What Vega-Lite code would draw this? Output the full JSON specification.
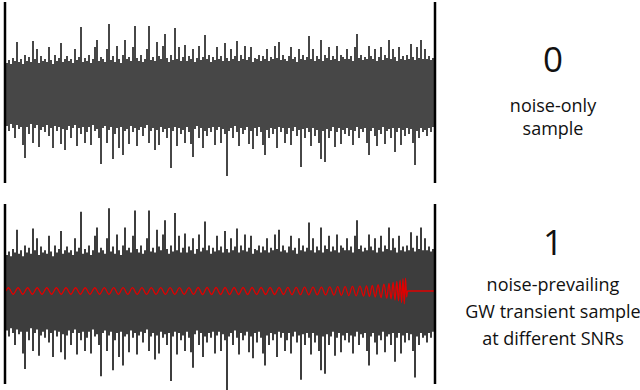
{
"$schema": "https://vega.github.io/schema/vega-lite/v6.json",
"padding": {"left": 3, "top": 0, "right": 0, "bottom": 0},
"background": "white",
"config": {"view": {"stroke": null}},
"spacing": 17,
"datasets": {
"noise": [
{"t":1,"hi":30,"lo":-33},{"t":2,"hi":33,"lo":-38},{"t":3,"hi":29,"lo":-31},{"t":4,"hi":35,"lo":-35},{"t":5,"hi":32,"lo":-45},{"t":6,"hi":51,"lo":-32},{"t":7,"hi":31,"lo":-36},{"t":8,"hi":34,"lo":-34},{"t":9,"hi":29,"lo":-52},{"t":10,"hi":38,"lo":-65},
{"t":11,"hi":32,"lo":-34},{"t":12,"hi":36,"lo":-41},{"t":13,"hi":31,"lo":-31},{"t":14,"hi":52,"lo":-50},{"t":15,"hi":34,"lo":-35},{"t":16,"hi":44,"lo":-32},{"t":17,"hi":30,"lo":-54},{"t":18,"hi":37,"lo":-37},{"t":19,"hi":32,"lo":-34},{"t":20,"hi":34,"lo":-39},
{"t":21,"hi":31,"lo":-32},{"t":22,"hi":46,"lo":-43},{"t":23,"hi":33,"lo":-35},{"t":24,"hi":29,"lo":-55},{"t":25,"hi":38,"lo":-33},{"t":26,"hi":32,"lo":-38},{"t":27,"hi":35,"lo":-34},{"t":28,"hi":50,"lo":-51},{"t":29,"hi":31,"lo":-36},{"t":30,"hi":34,"lo":-57},
{"t":31,"hi":37,"lo":-37},{"t":32,"hi":32,"lo":-33},{"t":33,"hi":34,"lo":-45},{"t":34,"hi":30,"lo":-35},{"t":35,"hi":44,"lo":-32},{"t":36,"hi":33,"lo":-53},{"t":37,"hi":36,"lo":-35},{"t":38,"hi":66,"lo":-41},{"t":39,"hi":31,"lo":-34},{"t":40,"hi":35,"lo":-50},
{"t":41,"hi":32,"lo":-39},{"t":42,"hi":38,"lo":-34},{"t":43,"hi":30,"lo":-52},{"t":44,"hi":34,"lo":-32},{"t":45,"hi":46,"lo":-38},{"t":46,"hi":53,"lo":-36},{"t":47,"hi":32,"lo":-45},{"t":48,"hi":36,"lo":-71},{"t":49,"hi":34,"lo":-35},{"t":50,"hi":31,"lo":-33},
{"t":51,"hi":44,"lo":-50},{"t":52,"hi":69,"lo":-37},{"t":53,"hi":33,"lo":-34},{"t":54,"hi":37,"lo":-66},{"t":55,"hi":31,"lo":-41},{"t":56,"hi":47,"lo":-35},{"t":57,"hi":34,"lo":-55},{"t":58,"hi":30,"lo":-34},{"t":59,"hi":38,"lo":-62},{"t":60,"hi":53,"lo":-38},
{"t":61,"hi":34,"lo":-36},{"t":62,"hi":36,"lo":-51},{"t":63,"hi":32,"lo":-33},{"t":64,"hi":46,"lo":-39},{"t":65,"hi":67,"lo":-35},{"t":66,"hi":35,"lo":-53},{"t":67,"hi":32,"lo":-37},{"t":68,"hi":38,"lo":-34},{"t":69,"hi":31,"lo":-43},{"t":70,"hi":34,"lo":-35},
{"t":71,"hi":44,"lo":-32},{"t":72,"hi":67,"lo":-50},{"t":73,"hi":33,"lo":-38},{"t":74,"hi":36,"lo":-35},{"t":75,"hi":32,"lo":-57},{"t":76,"hi":51,"lo":-37},{"t":77,"hi":37,"lo":-52},{"t":78,"hi":34,"lo":-34},{"t":79,"hi":47,"lo":-39},{"t":80,"hi":59,"lo":-36},
{"t":81,"hi":35,"lo":-45},{"t":82,"hi":31,"lo":-35},{"t":83,"hi":38,"lo":-75},{"t":84,"hi":33,"lo":-38},{"t":85,"hi":65,"lo":-34},{"t":86,"hi":34,"lo":-53},{"t":87,"hi":46,"lo":-35},{"t":88,"hi":32,"lo":-41},{"t":89,"hi":36,"lo":-37},{"t":90,"hi":48,"lo":-50},
{"t":91,"hi":32,"lo":-34},{"t":92,"hi":37,"lo":-39},{"t":93,"hi":34,"lo":-51},{"t":94,"hi":44,"lo":-64},{"t":95,"hi":31,"lo":-36},{"t":96,"hi":35,"lo":-33},{"t":97,"hi":47,"lo":-45},{"t":98,"hi":33,"lo":-35},{"t":99,"hi":36,"lo":-55},{"t":100,"hi":58,"lo":-38},
{"t":101,"hi":34,"lo":-43},{"t":102,"hi":38,"lo":-35},{"t":103,"hi":31,"lo":-39},{"t":104,"hi":36,"lo":-34},{"t":105,"hi":33,"lo":-52},{"t":106,"hi":46,"lo":-37},{"t":107,"hi":34,"lo":-34},{"t":108,"hi":37,"lo":-50},{"t":109,"hi":32,"lo":-36},{"t":110,"hi":50,"lo":-41},
{"t":111,"hi":35,"lo":-83},{"t":112,"hi":32,"lo":-38},{"t":113,"hi":44,"lo":-35},{"t":114,"hi":34,"lo":-45},{"t":115,"hi":37,"lo":-33},{"t":116,"hi":52,"lo":-39},{"t":117,"hi":32,"lo":-53},{"t":118,"hi":38,"lo":-35},{"t":119,"hi":34,"lo":-41},{"t":120,"hi":47,"lo":-37},
{"t":121,"hi":33,"lo":-34},{"t":122,"hi":36,"lo":-51},{"t":123,"hi":46,"lo":-38},{"t":124,"hi":31,"lo":-56},{"t":125,"hi":35,"lo":-35},{"t":126,"hi":34,"lo":-43},{"t":127,"hi":38,"lo":-34},{"t":128,"hi":32,"lo":-39},{"t":129,"hi":37,"lo":-52},{"t":130,"hi":34,"lo":-62},
{"t":131,"hi":44,"lo":-37},{"t":132,"hi":32,"lo":-45},{"t":133,"hi":36,"lo":-35},{"t":134,"hi":34,"lo":-41},{"t":135,"hi":47,"lo":-36},{"t":136,"hi":35,"lo":-55},{"t":137,"hi":51,"lo":-34},{"t":138,"hi":33,"lo":-39},{"t":139,"hi":38,"lo":-35},{"t":140,"hi":34,"lo":-50},
{"t":141,"hi":32,"lo":-41},{"t":142,"hi":37,"lo":-35},{"t":143,"hi":46,"lo":-52},{"t":144,"hi":34,"lo":-38},{"t":145,"hi":36,"lo":-34},{"t":146,"hi":31,"lo":-43},{"t":147,"hi":44,"lo":-37},{"t":148,"hi":34,"lo":-74},{"t":149,"hi":38,"lo":-36},{"t":150,"hi":33,"lo":-45},
{"t":151,"hi":36,"lo":-35},{"t":152,"hi":57,"lo":-39},{"t":153,"hi":34,"lo":-53},{"t":154,"hi":44,"lo":-35},{"t":155,"hi":32,"lo":-43},{"t":156,"hi":37,"lo":-37},{"t":157,"hi":34,"lo":-50},{"t":158,"hi":53,"lo":-66},{"t":159,"hi":32,"lo":-38},{"t":160,"hi":38,"lo":-69},
{"t":161,"hi":35,"lo":-36},{"t":162,"hi":46,"lo":-45},{"t":163,"hi":33,"lo":-38},{"t":164,"hi":37,"lo":-34},{"t":165,"hi":34,"lo":-54},{"t":166,"hi":47,"lo":-39},{"t":167,"hi":32,"lo":-35},{"t":168,"hi":38,"lo":-51},{"t":169,"hi":36,"lo":-37},{"t":170,"hi":34,"lo":-41},
{"t":171,"hi":44,"lo":-35},{"t":172,"hi":34,"lo":-43},{"t":173,"hi":37,"lo":-37},{"t":174,"hi":32,"lo":-52},{"t":175,"hi":46,"lo":-38},{"t":176,"hi":59,"lo":-34},{"t":177,"hi":35,"lo":-45},{"t":178,"hi":38,"lo":-36},{"t":179,"hi":33,"lo":-39},{"t":180,"hi":36,"lo":-35},
{"t":181,"hi":34,"lo":-50},{"t":182,"hi":47,"lo":-62},{"t":183,"hi":37,"lo":-38},{"t":184,"hi":34,"lo":-35},{"t":185,"hi":44,"lo":-43},{"t":186,"hi":32,"lo":-53},{"t":187,"hi":36,"lo":-37},{"t":188,"hi":46,"lo":-41},{"t":189,"hi":33,"lo":-34},{"t":190,"hi":38,"lo":-51},
{"t":191,"hi":35,"lo":-38},{"t":192,"hi":53,"lo":-36},{"t":193,"hi":34,"lo":-45},{"t":194,"hi":44,"lo":-35},{"t":195,"hi":36,"lo":-59},{"t":196,"hi":32,"lo":-39},{"t":197,"hi":46,"lo":-35},{"t":198,"hi":34,"lo":-52},{"t":199,"hi":37,"lo":-37},{"t":200,"hi":33,"lo":-43},
{"t":201,"hi":38,"lo":-35},{"t":202,"hi":34,"lo":-41},{"t":203,"hi":49,"lo":-36},{"t":204,"hi":36,"lo":-50},{"t":205,"hi":33,"lo":-72},{"t":206,"hi":46,"lo":-38},{"t":207,"hi":35,"lo":-45},{"t":208,"hi":53,"lo":-35},{"t":209,"hi":34,"lo":-39},{"t":210,"hi":44,"lo":-37},
{"t":211,"hi":34,"lo":-43},{"t":212,"hi":37,"lo":-35},{"t":213,"hi":33,"lo":-39},{"t":214,"hi":35,"lo":-34}
],
"chirp": [
{"t":0.5,"s":0},
{"t":1.7,"s":2.7},{"t":4.1,"s":-2.7},{"t":6.5,"s":2.7},{"t":8.9,"s":-2.7},{"t":11.3,"s":2.7},{"t":13.7,"s":-2.7},{"t":16.1,"s":2.7},{"t":18.5,"s":-2.7},{"t":20.9,"s":2.7},{"t":23.3,"s":-2.7},
{"t":25.7,"s":2.7},{"t":28.1,"s":-2.7},{"t":30.5,"s":2.7},{"t":32.9,"s":-2.7},{"t":35.3,"s":2.7},{"t":37.7,"s":-2.7},{"t":40.1,"s":2.7},{"t":42.5,"s":-2.7},{"t":44.9,"s":2.7},{"t":47.3,"s":-2.7},
{"t":49.65,"s":2.8},{"t":52.0,"s":-2.8},{"t":54.35,"s":2.8},{"t":56.7,"s":-2.8},{"t":59.05,"s":2.8},{"t":61.4,"s":-2.8},{"t":63.75,"s":2.8},{"t":66.1,"s":-2.8},{"t":68.45,"s":2.8},{"t":70.8,"s":-2.8},
{"t":73.15,"s":2.8},{"t":75.5,"s":-2.8},{"t":77.85,"s":2.8},{"t":80.2,"s":-2.8},{"t":82.55,"s":2.8},{"t":84.9,"s":-2.8},{"t":87.25,"s":2.8},{"t":89.6,"s":-2.8},{"t":91.95,"s":2.8},{"t":94.3,"s":-2.8},
{"t":96.55,"s":2.9},{"t":98.8,"s":-2.9},{"t":101.05,"s":2.9},{"t":103.3,"s":-2.9},{"t":105.55,"s":2.9},{"t":107.8,"s":-2.9},{"t":110.05,"s":2.9},{"t":112.3,"s":-2.9},{"t":114.55,"s":2.9},{"t":116.8,"s":-2.9},
{"t":119.05,"s":2.9},{"t":121.3,"s":-2.9},{"t":123.55,"s":2.9},{"t":125.8,"s":-2.9},{"t":128.05,"s":2.9},{"t":130.3,"s":-2.9},{"t":132.55,"s":2.9},{"t":134.8,"s":-2.9},{"t":137.05,"s":2.9},{"t":139.3,"s":-2.9},
{"t":141.4,"s":3.1},{"t":143.5,"s":-3.1},{"t":145.6,"s":3.1},{"t":147.7,"s":-3.1},{"t":149.8,"s":3.2},{"t":151.9,"s":-3.2},{"t":154.0,"s":3.2},{"t":156.1,"s":-3.2},{"t":158.2,"s":3.3},{"t":160.3,"s":-3.3},{"t":162.4,"s":3.4},{"t":164.5,"s":-3.4},
{"t":166.35,"s":3.6},{"t":168.2,"s":-3.6},{"t":170.05,"s":3.7},{"t":171.9,"s":-3.8},{"t":173.75,"s":3.9},{"t":175.6,"s":-4.0},{"t":177.45,"s":4.1},{"t":179.3,"s":-4.2},
{"t":180.75,"s":4.3},{"t":182.2,"s":-4.5},{"t":183.65,"s":4.7},{"t":185.1,"s":-5.0},{"t":186.55,"s":5.2},{"t":188.0,"s":-5.5},{"t":189.45,"s":5.8},{"t":190.9,"s":-6.0},
{"t":192.0,"s":6.3},{"t":193.05,"s":-6.7},{"t":194.05,"s":7.1},{"t":195.0,"s":-7.5},{"t":195.9,"s":7.9},{"t":196.75,"s":-8.3},
{"t":197.55,"s":9.0},{"t":198.3,"s":-9.6},{"t":199.0,"s":10.2},{"t":199.65,"s":-10.8},{"t":200.25,"s":10.8},{"t":200.8,"s":-5.0},{"t":201.3,"s":0},
{"t":214.5,"s":0}
],
"edges": [{"t":0},{"t":215}]
},
"vconcat": [
{
"spacing": 9,
"hconcat": [
{
"width": 430, "height": 181,
"layer": [
{"data": {"name": "noise"}, "mark": {"type": "rule", "color": "#474747", "strokeWidth": 2},
 "encoding": {
  "x": {"field": "t", "type": "quantitative", "scale": {"domain": [0, 215], "nice": false, "zero": false}, "axis": null},
  "y": {"field": "hi", "type": "quantitative", "scale": {"domain": [-90, 91], "nice": false, "zero": false}, "axis": null},
  "y2": {"field": "lo"}}},
{"data": {"name": "edges"}, "mark": {"type": "rule", "color": "#000000", "strokeWidth": 2.5},
 "encoding": {"x": {"field": "t", "type": "quantitative", "scale": {"domain": [0, 215], "nice": false, "zero": false}, "axis": null}}}
]
},
{
"width": 196, "height": 181,
"layer": [
{"data": {"values": [{"line": 0, "label": "0"}]},
 "mark": {"type": "text", "font": "Open Sans", "fontSize": 35, "baseline": "alphabetic", "dy": -17, "dx": 9, "color": "#111111"},
 "encoding": {"y": {"field": "line", "type": "quantitative", "scale": {"domain": [-3.783, 4.087], "reverse": true, "nice": false, "zero": false}, "axis": null}, "text": {"field": "label"}}},
{"data": {"values": [{"line": 1, "label": "noise-only"}, {"line": 2, "label": "sample"}]},
 "mark": {"type": "text", "font": "Open Sans", "fontSize": 18, "baseline": "alphabetic", "dx": 9, "color": "#111111"},
 "encoding": {"y": {"field": "line", "type": "quantitative", "scale": {"domain": [-3.783, 4.087], "reverse": true, "nice": false, "zero": false}, "axis": null}, "text": {"field": "label"}}}
]
}
]
},
{
"spacing": 9,
"hconcat": [
{
"width": 430, "height": 180,
"layer": [
{"data": {"name": "noise"}, "mark": {"type": "rule", "color": "#3d3d3d", "strokeWidth": 2},
 "encoding": {
  "x": {"field": "t", "type": "quantitative", "scale": {"domain": [0, 215], "nice": false, "zero": false}, "axis": null},
  "y": {"field": "hi", "type": "quantitative", "scale": {"domain": [-77.5, 72.5], "nice": false, "zero": false}, "axis": null},
  "y2": {"field": "lo"}}},
{"data": {"name": "chirp"}, "mark": {"type": "line", "color": "#e00000", "strokeWidth": 1.3, "interpolate": "monotone"},
 "encoding": {
  "x": {"field": "t", "type": "quantitative", "scale": {"domain": [0, 215], "nice": false, "zero": false}, "axis": null},
  "y": {"field": "s", "type": "quantitative", "scale": {"domain": [-77.5, 72.5], "nice": false, "zero": false}, "axis": null}}},
{"data": {"name": "edges"}, "mark": {"type": "rule", "color": "#000000", "strokeWidth": 2.5},
 "encoding": {"x": {"field": "t", "type": "quantitative", "scale": {"domain": [0, 215], "nice": false, "zero": false}, "axis": null}}}
]
},
{
"width": 196, "height": 180,
"layer": [
{"data": {"values": [{"line": 0, "label": "1"}]},
 "mark": {"type": "text", "font": "Open Sans", "fontSize": 35, "baseline": "alphabetic", "dy": -9, "dx": 9, "color": "#111111"},
 "encoding": {"y": {"field": "line", "type": "quantitative", "scale": {"domain": [-2.2222, 4.4444], "reverse": true, "nice": false, "zero": false}, "axis": null}, "text": {"field": "label"}}},
{"data": {"values": [{"line": 1, "label": "noise-prevailing"}, {"line": 2, "label": "GW transient sample"}, {"line": 3, "label": "at different SNRs"}]},
 "mark": {"type": "text", "font": "Open Sans", "fontSize": 18, "baseline": "alphabetic", "dx": 9, "color": "#111111"},
 "encoding": {"y": {"field": "line", "type": "quantitative", "scale": {"domain": [-2.2222, 4.4444], "reverse": true, "nice": false, "zero": false}, "axis": null}, "text": {"field": "label"}}}
]
}
]
}
]
}
